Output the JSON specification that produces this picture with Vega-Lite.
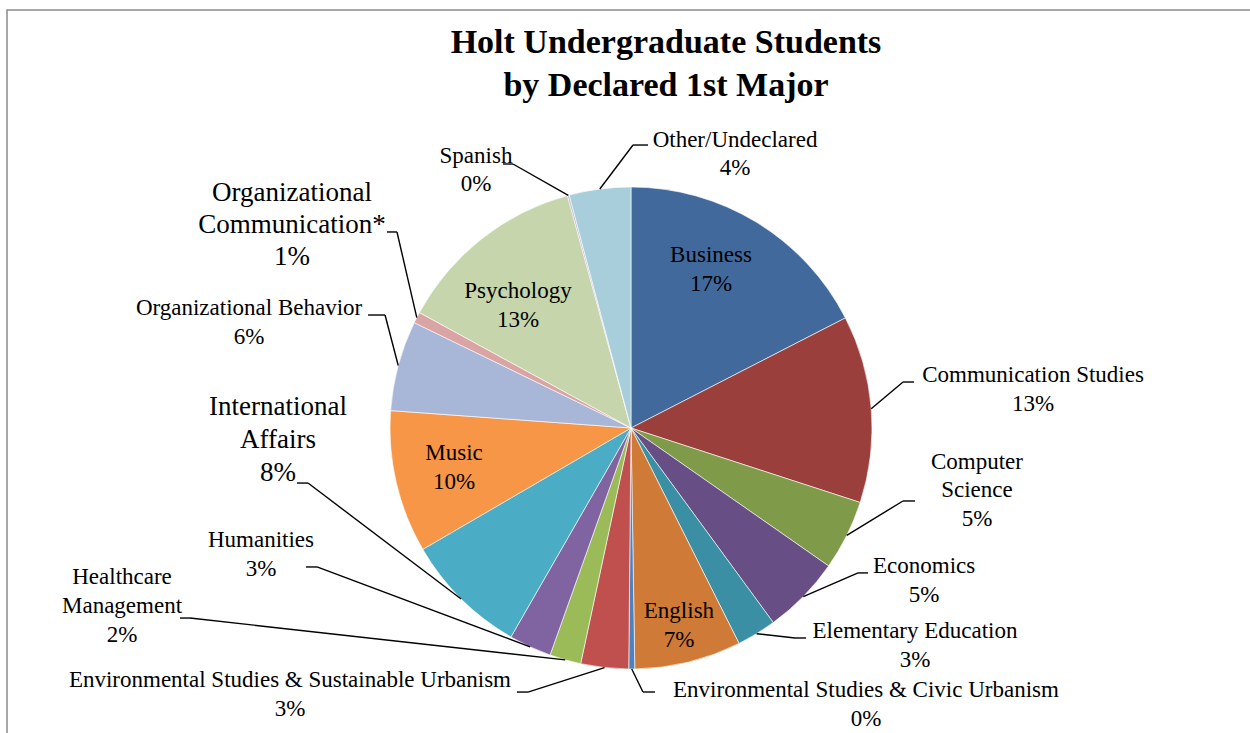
{
  "$schema": "https://vega.github.io/schema/vega-lite/v6.json",
  "autosize": {"type": "none"},
  "width": 1245,
  "height": 725,
  "padding": {"left": 7, "top": 10, "right": 0, "bottom": 0},
  "background": "white",
  "view": {"stroke": "#8a8a8a", "strokeWidth": 1.5, "fill": "white"},
  "config": {"text": {"font": "Liberation Serif", "color": "black"}},
  "title": {
    "text": ["Holt Undergraduate Students", "by Declared 1st Major"],
    "font": "Liberation Serif",
    "fontSize": 34,
    "fontWeight": "bold",
    "color": "black",
    "lineHeight": 43,
    "anchor": "middle",
    "frame": "group",
    "offset": -93,
    "dx": 36.5
  },
  "data": {
    "values": [
      {"order": 1, "name": "Business", "label": "Business", "share": 17.45},
      {"order": 2, "name": "Communication Studies", "label": "Communication Studies", "share": 12.55},
      {"order": 3, "name": "Computer Science", "label": "Computer\nScience", "share": 4.7},
      {"order": 4, "name": "Economics", "label": "Economics", "share": 5.25},
      {"order": 5, "name": "Elementary Education", "label": "Elementary Education", "share": 2.65},
      {"order": 6, "name": "English", "label": "English", "share": 7.15},
      {"order": 7, "name": "Environmental Studies & Civic Urbanism", "label": "Environmental Studies & Civic Urbanism", "share": 0.4},
      {"order": 8, "name": "Environmental Studies & Sustainable Urbanism", "label": "Environmental Studies & Sustainable Urbanism", "share": 3.2},
      {"order": 9, "name": "Healthcare Management", "label": "Healthcare\nManagement", "share": 2.1},
      {"order": 10, "name": "Humanities", "label": "Humanities", "share": 2.85},
      {"order": 11, "name": "International Affairs", "label": "International\nAffairs", "share": 8.3},
      {"order": 12, "name": "Music", "label": "Music", "share": 9.55},
      {"order": 13, "name": "Organizational Behavior", "label": "Organizational Behavior", "share": 6.05},
      {"order": 14, "name": "Organizational Communication*", "label": "Organizational\nCommunication*", "share": 0.75},
      {"order": 15, "name": "Psychology", "label": "Psychology", "share": 12.8},
      {"order": 16, "name": "Spanish", "label": "Spanish", "share": 0.12},
      {"order": 17, "name": "Other/Undeclared", "label": "Other/Undeclared", "share": 4.13}
    ]
  },
  "transform": [
    {"joinaggregate": [{"op": "sum", "field": "share", "as": "total"}]},
    {"window": [{"op": "sum", "field": "share", "as": "cum"}], "sort": [{"field": "order", "order": "ascending"}], "frame": [null, 0]},
    {"calculate": "2*PI*(datum.cum - datum.share/2)/datum.total", "as": "ang"},
    {"calculate": "241*sin(datum.ang)", "as": "ex"},
    {"calculate": "241*cos(datum.ang)", "as": "ey"},
    {"calculate": "datum.label + '\\n' + format(datum.share/datum.total, '.0%')", "as": "txt"}
  ],
  "encoding": {
    "x": {"field": "ex", "type": "quantitative", "scale": {"domain": [-624, 621], "nice": false, "zero": false}, "axis": null},
    "y": {"field": "ey", "type": "quantitative", "scale": {"domain": [-307, 418], "nice": false, "zero": false}, "axis": null}
  },
  "layer": [
    {
      "mark": {"type": "arc", "outerRadius": 241, "stroke": "#ffffff", "strokeWidth": 0.6},
      "encoding": {
        "x": {"datum": 0, "type": "quantitative", "scale": {"domain": [-624, 621], "nice": false, "zero": false}, "axis": null},
        "y": {"datum": 0, "type": "quantitative", "scale": {"domain": [-307, 418], "nice": false, "zero": false}, "axis": null},
        "theta": {"field": "share", "type": "quantitative", "stack": true},
        "order": {"field": "order", "type": "quantitative"},
        "color": {
          "field": "name",
          "type": "nominal",
          "legend": null,
          "scale": {
            "domain": ["Business", "Communication Studies", "Computer Science", "Economics", "Elementary Education", "English", "Environmental Studies & Civic Urbanism", "Environmental Studies & Sustainable Urbanism", "Healthcare Management", "Humanities", "International Affairs", "Music", "Organizational Behavior", "Organizational Communication*", "Psychology", "Spanish", "Other/Undeclared"],
            "range": ["#41699C", "#9B3F3C", "#7F9A48", "#674F86", "#3A8FA5", "#CF7A36", "#4F81BD", "#C0504D", "#9BBB59", "#8064A2", "#4BACC6", "#F79646", "#A8B7D8", "#D9A4A3", "#C6D5AC", "#BFB1D0", "#A8CEDC"]
          }
        }
      }
    },
    {"transform": [{"filter": "datum.name === 'Business'"}], "mark": {"type": "text", "align": "center", "baseline": "alphabetic", "dx": -45.6, "dy": 39.7, "fontSize": 23, "lineHeight": 29, "lineBreak": "\n"}, "encoding": {"text": {"field": "txt"}}},
    {"transform": [{"filter": "datum.name === 'Psychology'"}], "mark": {"type": "text", "align": "center", "baseline": "alphabetic", "dx": 36.5, "dy": 59, "fontSize": 23, "lineHeight": 29, "lineBreak": "\n"}, "encoding": {"text": {"field": "txt"}}},
    {"transform": [{"filter": "datum.name === 'Music'"}], "mark": {"type": "text", "align": "center", "baseline": "alphabetic", "dx": 57.8, "dy": -22.4, "fontSize": 23, "lineHeight": 29, "lineBreak": "\n"}, "encoding": {"text": {"field": "txt"}}},
    {"transform": [{"filter": "datum.name === 'English'"}], "mark": {"type": "text", "align": "center", "baseline": "alphabetic", "dx": -9.4, "dy": -44.1, "fontSize": 23, "lineHeight": 29, "lineBreak": "\n"}, "encoding": {"text": {"field": "txt"}}},
    {"transform": [{"filter": "datum.name === 'Communication Studies'"}], "mark": {"type": "text", "align": "center", "baseline": "alphabetic", "dx": 161.8, "dy": -26.7, "fontSize": 23, "lineHeight": 29, "lineBreak": "\n"}, "encoding": {"text": {"field": "txt"}}},
    {"transform": [{"filter": "datum.name === 'Computer Science'"}], "mark": {"type": "text", "align": "center", "baseline": "alphabetic", "dx": 130.2, "dy": -66.4, "fontSize": 23, "lineHeight": 28.5, "lineBreak": "\n"}, "encoding": {"text": {"field": "txt"}}},
    {"transform": [{"filter": "datum.name === 'Economics'"}], "mark": {"type": "text", "align": "center", "baseline": "alphabetic", "dx": 120.8, "dy": -23.6, "fontSize": 23, "lineHeight": 29, "lineBreak": "\n"}, "encoding": {"text": {"field": "txt"}}},
    {"transform": [{"filter": "datum.name === 'Elementary Education'"}], "mark": {"type": "text", "align": "center", "baseline": "alphabetic", "dx": 158.4, "dy": 4.3, "fontSize": 23, "lineHeight": 29, "lineBreak": "\n"}, "encoding": {"text": {"field": "txt"}}},
    {"transform": [{"filter": "datum.name === 'Environmental Studies & Civic Urbanism'"}], "mark": {"type": "text", "align": "center", "baseline": "alphabetic", "dx": 234.2, "dy": 28, "fontSize": 23, "lineHeight": 29, "lineBreak": "\n"}, "encoding": {"text": {"field": "txt"}}},
    {"transform": [{"filter": "datum.name === 'Environmental Studies & Sustainable Urbanism'"}], "mark": {"type": "text", "align": "center", "baseline": "alphabetic", "dx": -314.6, "dy": 19.5, "fontSize": 23, "lineHeight": 29, "lineBreak": "\n"}, "encoding": {"text": {"field": "txt"}}},
    {"transform": [{"filter": "datum.name === 'Healthcare Management'"}], "mark": {"type": "text", "align": "center", "baseline": "alphabetic", "dx": -443.2, "dy": -75.8, "fontSize": 23, "lineHeight": 29, "lineBreak": "\n"}, "encoding": {"text": {"field": "txt"}}},
    {"transform": [{"filter": "datum.name === 'Humanities'"}], "mark": {"type": "text", "align": "center", "baseline": "alphabetic", "dx": -269.1, "dy": -99.9, "fontSize": 23, "lineHeight": 29, "lineBreak": "\n"}, "encoding": {"text": {"field": "txt"}}},
    {"transform": [{"filter": "datum.name === 'International Affairs'"}], "mark": {"type": "text", "align": "center", "baseline": "alphabetic", "dx": -183.1, "dy": -183.9, "fontSize": 27, "lineHeight": 33, "lineBreak": "\n"}, "encoding": {"text": {"field": "txt"}}},
    {"transform": [{"filter": "datum.name === 'Organizational Behavior'"}], "mark": {"type": "text", "align": "center", "baseline": "alphabetic", "dx": -149.2, "dy": -50.5, "fontSize": 23, "lineHeight": 29, "lineBreak": "\n"}, "encoding": {"text": {"field": "txt"}}},
    {"transform": [{"filter": "datum.name === 'Organizational Communication*'"}], "mark": {"type": "text", "align": "center", "baseline": "alphabetic", "dx": -124.8, "dy": -116.6, "fontSize": 27, "lineHeight": 32, "lineBreak": "\n"}, "encoding": {"text": {"field": "txt"}}},
    {"transform": [{"filter": "datum.name === 'Spanish'"}], "mark": {"type": "text", "align": "center", "baseline": "alphabetic", "dx": -92.3, "dy": -32.3, "fontSize": 23, "lineHeight": 28, "lineBreak": "\n"}, "encoding": {"text": {"field": "txt"}}},
    {"transform": [{"filter": "datum.name === 'Other/Undeclared'"}], "mark": {"type": "text", "align": "center", "baseline": "alphabetic", "dx": 135.2, "dy": -42, "fontSize": 23, "lineHeight": 28, "lineBreak": "\n"}, "encoding": {"text": {"field": "txt"}}},

    {"transform": [{"filter": "datum.name === 'Communication Studies'"}], "mark": {"type": "rule", "color": "black", "strokeWidth": 1.4, "x2Offset": 31.8, "y2Offset": -26.7}, "encoding": {"x2": {"field": "ex"}, "y2": {"field": "ey"}}},
    {"transform": [{"filter": "datum.name === 'Communication Studies'"}], "mark": {"type": "rule", "color": "black", "strokeWidth": 1.4, "xOffset": 31.8, "yOffset": -26.7, "x2Offset": 42.8, "y2Offset": -26.7}, "encoding": {"x2": {"field": "ex"}, "y2": {"field": "ey"}}},
    {"transform": [{"filter": "datum.name === 'Computer Science'"}], "mark": {"type": "rule", "color": "black", "strokeWidth": 1.4, "x2Offset": 56.2, "y2Offset": -34.4}, "encoding": {"x2": {"field": "ex"}, "y2": {"field": "ey"}}},
    {"transform": [{"filter": "datum.name === 'Computer Science'"}], "mark": {"type": "rule", "color": "black", "strokeWidth": 1.4, "xOffset": 56.2, "yOffset": -34.4, "x2Offset": 68.2, "y2Offset": -34.4}, "encoding": {"x2": {"field": "ex"}, "y2": {"field": "ey"}}},
    {"transform": [{"filter": "datum.name === 'Economics'"}], "mark": {"type": "rule", "color": "black", "strokeWidth": 1.4, "x2Offset": 54.8, "y2Offset": -23.6}, "encoding": {"x2": {"field": "ex"}, "y2": {"field": "ey"}}},
    {"transform": [{"filter": "datum.name === 'Economics'"}], "mark": {"type": "rule", "color": "black", "strokeWidth": 1.4, "xOffset": 54.8, "yOffset": -23.6, "x2Offset": 64.8, "y2Offset": -23.6}, "encoding": {"x2": {"field": "ex"}, "y2": {"field": "ey"}}},
    {"transform": [{"filter": "datum.name === 'Elementary Education'"}], "mark": {"type": "rule", "color": "black", "strokeWidth": 1.4, "x2Offset": 38.4, "y2Offset": 4.3}, "encoding": {"x2": {"field": "ex"}, "y2": {"field": "ey"}}},
    {"transform": [{"filter": "datum.name === 'Elementary Education'"}], "mark": {"type": "rule", "color": "black", "strokeWidth": 1.4, "xOffset": 38.4, "yOffset": 4.3, "x2Offset": 49.4, "y2Offset": 4.3}, "encoding": {"x2": {"field": "ex"}, "y2": {"field": "ey"}}},
    {"transform": [{"filter": "datum.name === 'Environmental Studies & Civic Urbanism'"}], "mark": {"type": "rule", "color": "black", "strokeWidth": 1.4, "x2Offset": 11.2, "y2Offset": 23}, "encoding": {"x2": {"field": "ex"}, "y2": {"field": "ey"}}},
    {"transform": [{"filter": "datum.name === 'Environmental Studies & Civic Urbanism'"}], "mark": {"type": "rule", "color": "black", "strokeWidth": 1.4, "xOffset": 11.2, "yOffset": 23, "x2Offset": 23.2, "y2Offset": 23}, "encoding": {"x2": {"field": "ex"}, "y2": {"field": "ey"}}},
    {"transform": [{"filter": "datum.name === 'Environmental Studies & Sustainable Urbanism'"}], "mark": {"type": "rule", "color": "black", "strokeWidth": 1.4, "x2Offset": -76.6, "y2Offset": 24.5}, "encoding": {"x2": {"field": "ex"}, "y2": {"field": "ey"}}},
    {"transform": [{"filter": "datum.name === 'Environmental Studies & Sustainable Urbanism'"}], "mark": {"type": "rule", "color": "black", "strokeWidth": 1.4, "xOffset": -76.6, "yOffset": 24.5, "x2Offset": -87.6, "y2Offset": 24.5}, "encoding": {"x2": {"field": "ex"}, "y2": {"field": "ey"}}},
    {"transform": [{"filter": "datum.name === 'Healthcare Management'"}], "mark": {"type": "rule", "color": "black", "strokeWidth": 1.4, "x2Offset": -375.2, "y2Offset": -41.8}, "encoding": {"x2": {"field": "ex"}, "y2": {"field": "ey"}}},
    {"transform": [{"filter": "datum.name === 'Healthcare Management'"}], "mark": {"type": "rule", "color": "black", "strokeWidth": 1.4, "xOffset": -375.2, "yOffset": -41.8, "x2Offset": -385.2, "y2Offset": -41.8}, "encoding": {"x2": {"field": "ex"}, "y2": {"field": "ey"}}},
    {"transform": [{"filter": "datum.name === 'Humanities'"}], "mark": {"type": "rule", "color": "black", "strokeWidth": 1.4, "x2Offset": -213.1, "y2Offset": -79.9}, "encoding": {"x2": {"field": "ex"}, "y2": {"field": "ey"}}},
    {"transform": [{"filter": "datum.name === 'Humanities'"}], "mark": {"type": "rule", "color": "black", "strokeWidth": 1.4, "xOffset": -213.1, "yOffset": -79.9, "x2Offset": -224.1, "y2Offset": -79.9}, "encoding": {"x2": {"field": "ex"}, "y2": {"field": "ey"}}},
    {"transform": [{"filter": "datum.name === 'International Affairs'"}], "mark": {"type": "rule", "color": "black", "strokeWidth": 1.4, "x2Offset": -153.1, "y2Offset": -115.9}, "encoding": {"x2": {"field": "ex"}, "y2": {"field": "ey"}}},
    {"transform": [{"filter": "datum.name === 'International Affairs'"}], "mark": {"type": "rule", "color": "black", "strokeWidth": 1.4, "xOffset": -153.1, "yOffset": -115.9, "x2Offset": -164.1, "y2Offset": -115.9}, "encoding": {"x2": {"field": "ex"}, "y2": {"field": "ey"}}},
    {"transform": [{"filter": "datum.name === 'Organizational Behavior'"}], "mark": {"type": "rule", "color": "black", "strokeWidth": 1.4, "x2Offset": -13.2, "y2Offset": -50.5}, "encoding": {"x2": {"field": "ex"}, "y2": {"field": "ey"}}},
    {"transform": [{"filter": "datum.name === 'Organizational Behavior'"}], "mark": {"type": "rule", "color": "black", "strokeWidth": 1.4, "xOffset": -13.2, "yOffset": -50.5, "x2Offset": -30.2, "y2Offset": -50.5}, "encoding": {"x2": {"field": "ex"}, "y2": {"field": "ey"}}},
    {"transform": [{"filter": "datum.name === 'Organizational Communication*'"}], "mark": {"type": "rule", "color": "black", "strokeWidth": 1.4, "x2Offset": -19.8, "y2Offset": -85.6}, "encoding": {"x2": {"field": "ex"}, "y2": {"field": "ey"}}},
    {"transform": [{"filter": "datum.name === 'Organizational Communication*'"}], "mark": {"type": "rule", "color": "black", "strokeWidth": 1.4, "xOffset": -19.8, "yOffset": -85.6, "x2Offset": -29.8, "y2Offset": -85.6}, "encoding": {"x2": {"field": "ex"}, "y2": {"field": "ey"}}},
    {"transform": [{"filter": "datum.name === 'Spanish'"}], "mark": {"type": "rule", "color": "black", "strokeWidth": 1.4, "x2Offset": -55.3, "y2Offset": -31.3}, "encoding": {"x2": {"field": "ex"}, "y2": {"field": "ey"}}},
    {"transform": [{"filter": "datum.name === 'Spanish'"}], "mark": {"type": "rule", "color": "black", "strokeWidth": 1.4, "xOffset": -55.3, "yOffset": -31.3, "x2Offset": -65.3, "y2Offset": -31.3}, "encoding": {"x2": {"field": "ex"}, "y2": {"field": "ey"}}},
    {"transform": [{"filter": "datum.name === 'Other/Undeclared'"}], "mark": {"type": "rule", "color": "black", "strokeWidth": 1.4, "x2Offset": 33.2, "y2Offset": -44}, "encoding": {"x2": {"field": "ex"}, "y2": {"field": "ey"}}},
    {"transform": [{"filter": "datum.name === 'Other/Undeclared'"}], "mark": {"type": "rule", "color": "black", "strokeWidth": 1.4, "xOffset": 33.2, "yOffset": -44, "x2Offset": 48.2, "y2Offset": -44}, "encoding": {"x2": {"field": "ex"}, "y2": {"field": "ey"}}}
  ]
}
